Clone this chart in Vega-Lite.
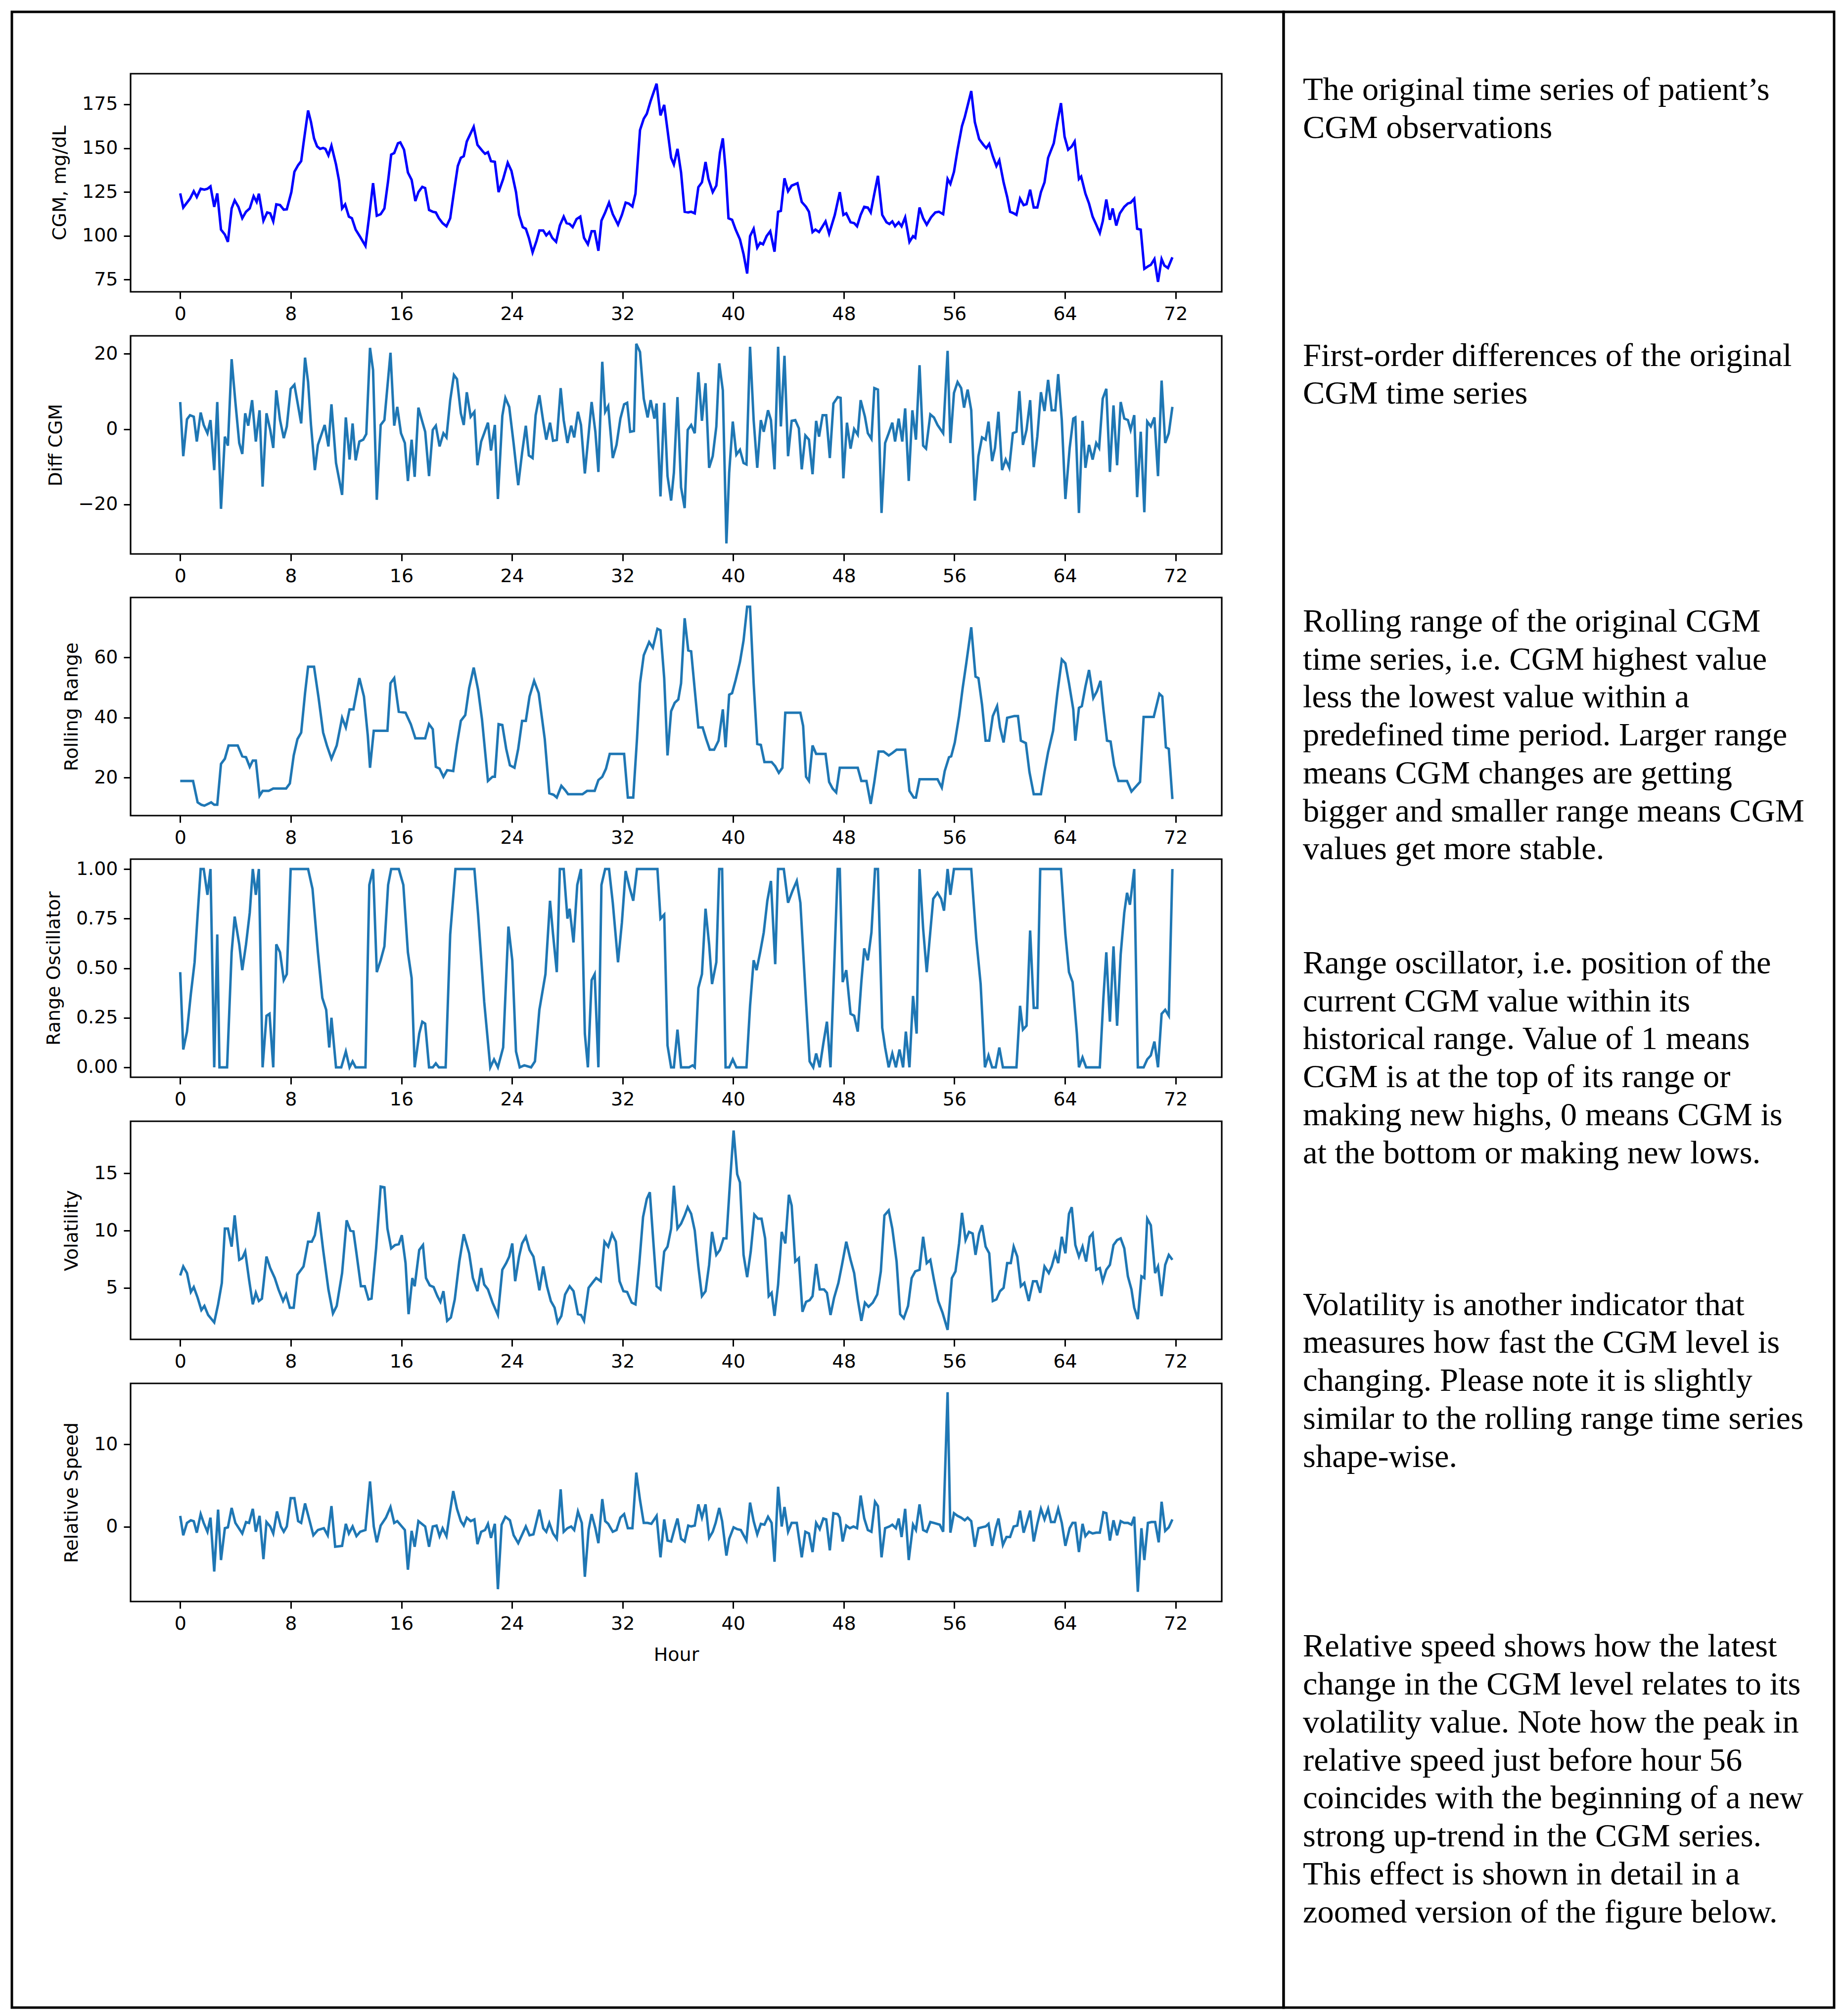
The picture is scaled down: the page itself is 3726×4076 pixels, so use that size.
{
"$schema":"https://vega.github.io/schema/vega-lite/v6.json",
"background":"white",
"padding":{"left":21,"top":21,"right":21,"bottom":20},
"bounds":"flush",
"spacing":0,
"config":{
 "view":{"stroke":"#000","strokeWidth":5},
 "axis":{"grid":false,"domain":false,"tickColor":"#000","tickWidth":3,"tickSize":14,"labelFont":"DejaVu Sans","labelFontSize":38,"labelColor":"#000","labelPadding":12,"labelFlush":false,"labelOverlap":false,"titleFont":"DejaVu Sans","titleFontSize":38,"titleFontWeight":"normal","titleColor":"#000","titlePadding":25}
},
"datasets":{
"cgm":[{"h":0,"v":124.2},{"h":0.22,"v":116.1},{"h":0.71,"v":121.2},{"h":0.98,"v":125.4},{"h":1.2,"v":122.1},{"h":1.48,"v":126.8},{"h":1.75,"v":126.3},{"h":1.97,"v":126.8},{"h":2.19,"v":128.2},{"h":2.46,"v":116.5},{"h":2.68,"v":124.2},{"h":2.95,"v":103.5},{"h":3.23,"v":100.7},{"h":3.45,"v":96.5},{"h":3.72,"v":115.6},{"h":3.94,"v":120.2},{"h":4.21,"v":116.5},{"h":4.49,"v":110.0},{"h":4.76,"v":113.7},{"h":5.03,"v":115.6},{"h":5.31,"v":122.6},{"h":5.53,"v":119.3},{"h":5.69,"v":124.0},{"h":6.02,"v":108.6},{"h":6.29,"v":113.3},{"h":6.51,"v":112.8},{"h":6.73,"v":108.2},{"h":6.95,"v":117.9},{"h":7.22,"v":117.5},{"h":7.49,"v":114.9},{"h":7.71,"v":115.1},{"h":8.04,"v":124.9},{"h":8.26,"v":136.5},{"h":8.53,"v":140.3},{"h":8.75,"v":142.6},{"h":8.92,"v":152.8},{"h":9.25,"v":171.5},{"h":9.46,"v":164.9},{"h":9.68,"v":155.6},{"h":9.9,"v":151.0},{"h":10.12,"v":149.6},{"h":10.34,"v":150.1},{"h":10.5,"v":149.6},{"h":10.72,"v":145.9},{"h":10.94,"v":151.4},{"h":11.27,"v":140.7},{"h":11.49,"v":131.4},{"h":11.71,"v":115.6},{"h":11.93,"v":117.9},{"h":12.2,"v":110.9},{"h":12.42,"v":110.0},{"h":12.69,"v":103.5},{"h":13.02,"v":99.3},{"h":13.4,"v":94.2},{"h":13.68,"v":111.9},{"h":13.95,"v":130.0},{"h":14.22,"v":111.4},{"h":14.5,"v":112.3},{"h":14.77,"v":115.6},{"h":15.04,"v":131.4},{"h":15.26,"v":146.3},{"h":15.48,"v":147.2},{"h":15.75,"v":152.8},{"h":15.92,"v":153.3},{"h":16.19,"v":149.1},{"h":16.47,"v":136.1},{"h":16.74,"v":131.9},{"h":17.01,"v":119.8},{"h":17.23,"v":124.9},{"h":17.51,"v":127.9},{"h":17.72,"v":127.2},{"h":18.0,"v":114.7},{"h":18.27,"v":113.7},{"h":18.49,"v":113.3},{"h":18.71,"v":110.0},{"h":18.98,"v":107.2},{"h":19.26,"v":105.4},{"h":19.53,"v":110.0},{"h":19.8,"v":124.9},{"h":20.08,"v":139.8},{"h":20.3,"v":144.5},{"h":20.51,"v":145.4},{"h":20.73,"v":153.8},{"h":21.23,"v":162.2},{"h":21.5,"v":151.9},{"h":21.88,"v":148.2},{"h":22.05,"v":146.8},{"h":22.26,"v":147.7},{"h":22.48,"v":142.6},{"h":22.76,"v":142.2},{"h":23.03,"v":124.9},{"h":23.36,"v":132.4},{"h":23.69,"v":141.7},{"h":23.96,"v":137.0},{"h":24.29,"v":124.9},{"h":24.51,"v":111.9},{"h":24.78,"v":104.9},{"h":25.0,"v":104.0},{"h":25.22,"v":98.8},{"h":25.49,"v":90.5},{"h":25.77,"v":97.0},{"h":25.98,"v":103.0},{"h":26.26,"v":103.0},{"h":26.48,"v":100.2},{"h":26.7,"v":102.1},{"h":26.91,"v":98.8},{"h":27.19,"v":96.5},{"h":27.46,"v":105.8},{"h":27.74,"v":110.9},{"h":27.95,"v":107.2},{"h":28.17,"v":106.7},{"h":28.39,"v":104.9},{"h":28.67,"v":109.5},{"h":28.94,"v":110.9},{"h":29.21,"v":98.8},{"h":29.49,"v":95.1},{"h":29.76,"v":102.6},{"h":29.98,"v":102.6},{"h":30.25,"v":91.4},{"h":30.47,"v":108.6},{"h":30.74,"v":113.3},{"h":31.02,"v":118.9},{"h":31.29,"v":112.3},{"h":31.67,"v":106.3},{"h":31.95,"v":111.9},{"h":32.22,"v":118.9},{"h":32.44,"v":118.4},{"h":32.71,"v":116.7},{"h":32.93,"v":124.0},{"h":33.26,"v":160.3},{"h":33.53,"v":166.8},{"h":33.75,"v":169.6},{"h":34.03,"v":177.0},{"h":34.46,"v":186.8},{"h":34.74,"v":168.7},{"h":35.01,"v":174.7},{"h":35.25,"v":160.3},{"h":35.51,"v":144.5},{"h":35.71,"v":140.7},{"h":35.97,"v":149.6},{"h":36.23,"v":136.1},{"h":36.49,"v":113.7},{"h":36.75,"v":113.3},{"h":36.96,"v":113.7},{"h":37.22,"v":112.8},{"h":37.48,"v":127.7},{"h":37.74,"v":130.5},{"h":38.0,"v":142.1},{"h":38.21,"v":132.4},{"h":38.52,"v":124.9},{"h":38.78,"v":128.6},{"h":39.04,"v":147.3},{"h":39.25,"v":155.6},{"h":39.45,"v":137.9},{"h":39.66,"v":110.0},{"h":39.92,"v":109.1},{"h":40.18,"v":103.5},{"h":40.49,"v":97.9},{"h":40.75,"v":89.5},{"h":41.01,"v":78.4},{"h":41.22,"v":99.8},{"h":41.48,"v":104.0},{"h":41.74,"v":93.2},{"h":41.95,"v":96.0},{"h":42.16,"v":95.1},{"h":42.42,"v":99.8},{"h":42.68,"v":102.6},{"h":42.99,"v":90.9},{"h":43.25,"v":113.7},{"h":43.45,"v":114.2},{"h":43.71,"v":132.8},{"h":43.97,"v":125.4},{"h":44.23,"v":128.6},{"h":44.65,"v":130.0},{"h":44.96,"v":119.3},{"h":45.27,"v":116.5},{"h":45.48,"v":113.7},{"h":45.74,"v":102.1},{"h":45.95,"v":103.5},{"h":46.21,"v":102.1},{"h":46.68,"v":108.2},{"h":46.94,"v":101.2},{"h":47.35,"v":111.9},{"h":47.71,"v":124.9},{"h":47.97,"v":111.9},{"h":48.18,"v":112.8},{"h":48.49,"v":107.7},{"h":48.75,"v":107.2},{"h":48.96,"v":105.4},{"h":49.22,"v":111.9},{"h":49.48,"v":116.5},{"h":49.74,"v":116.1},{"h":49.95,"v":113.3},{"h":50.21,"v":124.0},{"h":50.47,"v":134.2},{"h":50.78,"v":111.9},{"h":51.09,"v":107.7},{"h":51.3,"v":106.7},{"h":51.51,"v":108.2},{"h":51.71,"v":105.4},{"h":51.97,"v":107.7},{"h":52.18,"v":105.4},{"h":52.44,"v":110.5},{"h":52.75,"v":96.5},{"h":53.01,"v":99.8},{"h":53.17,"v":98.8},{"h":53.48,"v":116.1},{"h":53.74,"v":110.0},{"h":54.0,"v":106.3},{"h":54.31,"v":110.5},{"h":54.62,"v":113.3},{"h":54.88,"v":113.7},{"h":55.19,"v":112.3},{"h":55.51,"v":132.4},{"h":55.71,"v":129.6},{"h":55.97,"v":136.5},{"h":56.23,"v":149.1},{"h":56.55,"v":162.6},{"h":56.75,"v":167.7},{"h":56.96,"v":174.3},{"h":57.22,"v":182.6},{"h":57.48,"v":164.9},{"h":57.79,"v":155.2},{"h":58.1,"v":151.9},{"h":58.31,"v":150.0},{"h":58.52,"v":152.4},{"h":58.78,"v":145.4},{"h":59.04,"v":139.8},{"h":59.25,"v":143.1},{"h":59.56,"v":130.5},{"h":59.82,"v":122.1},{"h":60.03,"v":113.7},{"h":60.29,"v":112.8},{"h":60.49,"v":111.9},{"h":60.75,"v":121.2},{"h":61.01,"v":117.5},{"h":61.22,"v":118.0},{"h":61.48,"v":126.3},{"h":61.74,"v":116.1},{"h":62.0,"v":116.1},{"h":62.26,"v":124.9},{"h":62.52,"v":130.5},{"h":62.78,"v":144.5},{"h":63.19,"v":152.8},{"h":63.45,"v":164.9},{"h":63.71,"v":175.7},{"h":63.97,"v":156.6},{"h":64.23,"v":149.1},{"h":64.49,"v":151.0},{"h":64.7,"v":153.8},{"h":65.01,"v":132.4},{"h":65.17,"v":133.8},{"h":65.48,"v":124.0},{"h":65.74,"v":118.4},{"h":66.0,"v":110.9},{"h":66.26,"v":106.3},{"h":66.52,"v":101.6},{"h":66.73,"v":108.2},{"h":66.99,"v":120.7},{"h":67.25,"v":109.1},{"h":67.45,"v":115.6},{"h":67.71,"v":105.8},{"h":67.97,"v":112.8},{"h":68.29,"v":116.5},{"h":68.55,"v":118.4},{"h":68.75,"v":118.9},{"h":69.01,"v":121.2},{"h":69.22,"v":104.0},{"h":69.48,"v":103.5},{"h":69.74,"v":81.1},{"h":70.0,"v":82.5},{"h":70.21,"v":83.4},{"h":70.47,"v":86.7},{"h":70.73,"v":73.7},{"h":70.99,"v":86.7},{"h":71.19,"v":83.0},{"h":71.45,"v":81.6},{"h":71.77,"v":87.7}],
"diff":[{"h":0,"v":7.2},{"h":0.22,"v":-7.2},{"h":0.49,"v":2.6},{"h":0.71,"v":3.7},{"h":0.98,"v":3.3},{"h":1.2,"v":-3.3},{"h":1.48,"v":4.4},{"h":1.7,"v":1.1},{"h":1.97,"v":-1.1},{"h":2.19,"v":2.4},{"h":2.46,"v":-10.9},{"h":2.68,"v":7.2},{"h":2.95,"v":-21.2},{"h":3.23,"v":-2.0},{"h":3.45,"v":-4.4},{"h":3.72,"v":18.6},{"h":3.99,"v":7.2},{"h":4.27,"v":-3.7},{"h":4.49,"v":-6.6},{"h":4.7,"v":4.2},{"h":4.92,"v":0.9},{"h":5.2,"v":7.7},{"h":5.47,"v":-3.3},{"h":5.74,"v":5.0},{"h":5.96,"v":-15.3},{"h":6.24,"v":4.2},{"h":6.51,"v":-0.2},{"h":6.73,"v":-5.0},{"h":6.95,"v":10.3},{"h":7.22,"v":2.4},{"h":7.49,"v":-2.4},{"h":7.71,"v":0.7},{"h":7.99,"v":10.7},{"h":8.26,"v":11.8},{"h":8.48,"v":7.2},{"h":8.75,"v":1.5},{"h":9.03,"v":19.0},{"h":9.25,"v":12.5},{"h":9.46,"v":1.1},{"h":9.74,"v":-10.9},{"h":9.96,"v":-4.2},{"h":10.45,"v":1.1},{"h":10.72,"v":-4.6},{"h":10.94,"v":6.6},{"h":11.27,"v":-9.0},{"h":11.71,"v":-17.5},{"h":11.98,"v":3.1},{"h":12.25,"v":-8.1},{"h":12.47,"v":1.5},{"h":12.69,"v":-8.3},{"h":12.96,"v":-3.3},{"h":13.24,"v":-2.8},{"h":13.46,"v":-1.3},{"h":13.73,"v":21.6},{"h":13.95,"v":15.7},{"h":14.22,"v":-18.8},{"h":14.5,"v":1.1},{"h":14.77,"v":2.4},{"h":15.21,"v":20.3},{"h":15.48,"v":0.9},{"h":15.7,"v":5.9},{"h":15.97,"v":-1.1},{"h":16.25,"v":-3.7},{"h":16.47,"v":-13.8},{"h":16.74,"v":-2.8},{"h":16.96,"v":-12.7},{"h":17.23,"v":5.7},{"h":17.51,"v":2.0},{"h":17.72,"v":-0.7},{"h":18.0,"v":-12.5},{"h":18.27,"v":-0.2},{"h":18.49,"v":0.9},{"h":18.76,"v":-4.6},{"h":19.04,"v":-1.1},{"h":19.26,"v":-2.2},{"h":19.53,"v":7.7},{"h":19.8,"v":14.4},{"h":20.02,"v":13.3},{"h":20.3,"v":4.2},{"h":20.51,"v":1.1},{"h":20.73,"v":9.8},{"h":21.01,"v":3.3},{"h":21.28,"v":4.6},{"h":21.5,"v":-9.6},{"h":21.77,"v":-3.3},{"h":21.99,"v":-1.1},{"h":22.26,"v":1.7},{"h":22.48,"v":-5.7},{"h":22.76,"v":1.1},{"h":22.98,"v":-18.6},{"h":23.3,"v":3.5},{"h":23.52,"v":8.3},{"h":23.8,"v":5.9},{"h":24.12,"v":-3.9},{"h":24.45,"v":-14.9},{"h":24.73,"v":-6.3},{"h":25.0,"v":0.9},{"h":25.22,"v":-7.0},{"h":25.49,"v":-7.7},{"h":25.71,"v":3.7},{"h":25.98,"v":9.0},{"h":26.26,"v":2.0},{"h":26.48,"v":-2.8},{"h":26.75,"v":1.7},{"h":26.97,"v":-3.1},{"h":27.24,"v":-2.9},{"h":27.52,"v":10.9},{"h":27.74,"v":2.4},{"h":28.01,"v":-3.7},{"h":28.28,"v":0.9},{"h":28.5,"v":-2.2},{"h":28.77,"v":4.6},{"h":28.99,"v":1.1},{"h":29.27,"v":-11.8},{"h":29.54,"v":-1.5},{"h":29.76,"v":7.2},{"h":30.03,"v":-0.7},{"h":30.25,"v":-11.4},{"h":30.53,"v":17.9},{"h":30.74,"v":4.6},{"h":30.96,"v":6.1},{"h":31.29,"v":-7.7},{"h":31.56,"v":-4.2},{"h":31.84,"v":2.8},{"h":32.11,"v":6.6},{"h":32.33,"v":7.0},{"h":32.55,"v":-0.7},{"h":32.82,"v":-0.5},{"h":32.99,"v":22.7},{"h":33.26,"v":20.5},{"h":33.53,"v":8.1},{"h":33.81,"v":3.1},{"h":34.03,"v":7.7},{"h":34.3,"v":2.8},{"h":34.46,"v":6.8},{"h":34.74,"v":-17.9},{"h":35.01,"v":7.0},{"h":35.25,"v":-12.5},{"h":35.51,"v":-19.0},{"h":35.71,"v":-11.6},{"h":35.97,"v":8.5},{"h":36.23,"v":-15.5},{"h":36.49,"v":-21.0},{"h":36.71,"v":-0.2},{"h":36.96,"v":1.1},{"h":37.22,"v":-1.1},{"h":37.48,"v":15.1},{"h":37.74,"v":2.2},{"h":38.0,"v":12.2},{"h":38.26,"v":-10.3},{"h":38.52,"v":-7.2},{"h":38.78,"v":0.7},{"h":38.99,"v":17.5},{"h":39.25,"v":10.3},{"h":39.51,"v":-30.4},{"h":39.71,"v":-11.6},{"h":39.97,"v":2.0},{"h":40.23,"v":-6.8},{"h":40.49,"v":-5.5},{"h":40.75,"v":-9.0},{"h":40.96,"v":-9.4},{"h":41.22,"v":21.9},{"h":41.48,"v":2.4},{"h":41.74,"v":-10.3},{"h":42.0,"v":2.4},{"h":42.21,"v":-0.7},{"h":42.52,"v":5.0},{"h":42.73,"v":2.4},{"h":42.99,"v":-10.7},{"h":43.25,"v":21.9},{"h":43.45,"v":0.7},{"h":43.71,"v":19.5},{"h":43.97,"v":-7.2},{"h":44.23,"v":2.2},{"h":44.49,"v":2.4},{"h":44.75,"v":0.2},{"h":44.96,"v":-10.7},{"h":45.22,"v":-1.7},{"h":45.48,"v":-2.8},{"h":45.74,"v":-12.0},{"h":46.0,"v":2.2},{"h":46.21,"v":-2.0},{"h":46.47,"v":3.7},{"h":46.73,"v":3.7},{"h":46.99,"v":-7.7},{"h":47.25,"v":6.8},{"h":47.56,"v":8.5},{"h":47.77,"v":8.3},{"h":47.97,"v":-13.1},{"h":48.23,"v":1.7},{"h":48.49,"v":-5.2},{"h":48.75,"v":0.0},{"h":49.01,"v":-1.5},{"h":49.22,"v":7.7},{"h":49.53,"v":3.3},{"h":49.74,"v":-1.1},{"h":50.0,"v":-2.6},{"h":50.21,"v":10.9},{"h":50.47,"v":10.5},{"h":50.73,"v":-22.3},{"h":50.99,"v":-3.7},{"h":51.25,"v":-1.1},{"h":51.51,"v":1.7},{"h":51.71,"v":-3.3},{"h":51.97,"v":2.8},{"h":52.23,"v":-3.3},{"h":52.44,"v":5.5},{"h":52.7,"v":-13.8},{"h":52.96,"v":5.0},{"h":53.22,"v":-2.8},{"h":53.48,"v":17.0},{"h":53.74,"v":-4.4},{"h":53.95,"v":-5.2},{"h":54.26,"v":3.9},{"h":54.52,"v":3.1},{"h":54.78,"v":1.1},{"h":55.19,"v":-1.1},{"h":55.51,"v":20.8},{"h":55.71,"v":-3.7},{"h":55.97,"v":9.6},{"h":56.23,"v":12.5},{"h":56.49,"v":10.9},{"h":56.7,"v":5.7},{"h":56.96,"v":10.5},{"h":57.22,"v":5.0},{"h":57.48,"v":-19.0},{"h":57.74,"v":-7.2},{"h":58.0,"v":-2.2},{"h":58.26,"v":-2.8},{"h":58.47,"v":2.0},{"h":58.73,"v":-8.5},{"h":58.94,"v":-5.0},{"h":59.19,"v":4.6},{"h":59.45,"v":-10.9},{"h":59.71,"v":-8.1},{"h":59.97,"v":-10.3},{"h":60.23,"v":-1.1},{"h":60.49,"v":-0.7},{"h":60.7,"v":10.1},{"h":60.96,"v":-4.2},{"h":61.22,"v":-0.2},{"h":61.48,"v":7.7},{"h":61.74,"v":-10.1},{"h":62.0,"v":-2.0},{"h":62.26,"v":9.8},{"h":62.52,"v":4.8},{"h":62.78,"v":13.1},{"h":63.04,"v":5.0},{"h":63.3,"v":5.0},{"h":63.51,"v":14.6},{"h":63.77,"v":2.4},{"h":64.03,"v":-18.6},{"h":64.34,"v":-5.0},{"h":64.6,"v":2.8},{"h":64.75,"v":3.1},{"h":65.01,"v":-22.3},{"h":65.27,"v":2.2},{"h":65.48,"v":-10.3},{"h":65.74,"v":-4.2},{"h":66.0,"v":-8.1},{"h":66.26,"v":-3.7},{"h":66.47,"v":-5.0},{"h":66.73,"v":8.1},{"h":66.99,"v":10.7},{"h":67.25,"v":-11.4},{"h":67.51,"v":6.3},{"h":67.77,"v":-9.6},{"h":68.03,"v":7.2},{"h":68.29,"v":2.8},{"h":68.55,"v":2.4},{"h":68.75,"v":-0.2},{"h":69.01,"v":3.7},{"h":69.22,"v":-18.1},{"h":69.48,"v":-0.7},{"h":69.74,"v":-22.1},{"h":69.95,"v":2.0},{"h":70.21,"v":0.7},{"h":70.47,"v":3.1},{"h":70.73,"v":-12.5},{"h":70.99,"v":12.9},{"h":71.25,"v":-3.7},{"h":71.51,"v":-1.1},{"h":71.77,"v":5.9}],
"range":[{"h":0,"v":18.9},{"h":0.93,"v":18.9},{"h":1.26,"v":11.8},{"h":1.53,"v":11.0},{"h":1.75,"v":10.7},{"h":2.02,"v":11.3},{"h":2.24,"v":11.8},{"h":2.46,"v":11.0},{"h":2.68,"v":11.0},{"h":2.95,"v":24.6},{"h":3.23,"v":26.3},{"h":3.5,"v":30.7},{"h":4.16,"v":30.7},{"h":4.49,"v":27.1},{"h":4.76,"v":26.8},{"h":5.03,"v":23.6},{"h":5.25,"v":25.7},{"h":5.47,"v":25.7},{"h":5.74,"v":14.0},{"h":5.96,"v":15.6},{"h":6.4,"v":15.6},{"h":6.73,"v":16.4},{"h":7.66,"v":16.4},{"h":7.93,"v":18.1},{"h":8.21,"v":27.4},{"h":8.48,"v":32.8},{"h":8.75,"v":35.0},{"h":9.03,"v":48.1},{"h":9.25,"v":56.9},{"h":9.68,"v":56.9},{"h":10.01,"v":46.5},{"h":10.34,"v":35.0},{"h":10.61,"v":30.7},{"h":10.94,"v":26.3},{"h":11.32,"v":30.7},{"h":11.71,"v":39.9},{"h":11.98,"v":36.7},{"h":12.25,"v":42.7},{"h":12.53,"v":42.7},{"h":12.96,"v":53.1},{"h":13.29,"v":47.0},{"h":13.57,"v":33.9},{"h":13.73,"v":23.3},{"h":14.0,"v":35.6},{"h":14.99,"v":35.6},{"h":15.21,"v":51.4},{"h":15.48,"v":53.1},{"h":15.81,"v":41.9},{"h":16.3,"v":41.6},{"h":16.68,"v":37.8},{"h":17.01,"v":33.1},{"h":17.72,"v":33.1},{"h":18.0,"v":37.8},{"h":18.27,"v":36.1},{"h":18.49,"v":23.6},{"h":18.76,"v":23.0},{"h":19.04,"v":20.3},{"h":19.31,"v":22.5},{"h":19.75,"v":22.2},{"h":20.02,"v":31.2},{"h":20.3,"v":38.9},{"h":20.62,"v":40.8},{"h":20.9,"v":49.8},{"h":21.23,"v":56.6},{"h":21.55,"v":49.2},{"h":21.83,"v":39.4},{"h":22.26,"v":18.9},{"h":22.59,"v":20.3},{"h":22.76,"v":20.3},{"h":23.03,"v":37.8},{"h":23.3,"v":37.5},{"h":23.58,"v":29.6},{"h":23.85,"v":24.1},{"h":24.18,"v":23.3},{"h":24.45,"v":29.6},{"h":24.73,"v":38.9},{"h":25.0,"v":38.9},{"h":25.27,"v":47.0},{"h":25.6,"v":52.2},{"h":25.93,"v":48.1},{"h":26.37,"v":32.8},{"h":26.7,"v":14.8},{"h":27.02,"v":14.3},{"h":27.24,"v":13.4},{"h":27.57,"v":17.3},{"h":27.84,"v":15.9},{"h":28.06,"v":14.5},{"h":29.1,"v":14.5},{"h":29.43,"v":15.6},{"h":29.98,"v":15.6},{"h":30.25,"v":19.2},{"h":30.53,"v":20.3},{"h":30.8,"v":23.0},{"h":31.07,"v":27.9},{"h":32.11,"v":27.9},{"h":32.38,"v":13.4},{"h":32.77,"v":13.4},{"h":33.04,"v":32.8},{"h":33.26,"v":51.4},{"h":33.53,"v":60.7},{"h":33.92,"v":65.1},{"h":34.19,"v":63.2},{"h":34.52,"v":69.5},{"h":34.74,"v":69.0},{"h":35.01,"v":53.1},{"h":35.25,"v":27.4},{"h":35.51,"v":42.1},{"h":35.77,"v":44.9},{"h":36.03,"v":46.0},{"h":36.23,"v":51.4},{"h":36.49,"v":73.0},{"h":36.75,"v":62.3},{"h":36.96,"v":62.0},{"h":37.22,"v":49.2},{"h":37.48,"v":36.7},{"h":37.79,"v":36.7},{"h":38.05,"v":32.8},{"h":38.31,"v":29.3},{"h":38.62,"v":29.3},{"h":38.94,"v":32.3},{"h":39.25,"v":42.7},{"h":39.45,"v":30.1},{"h":39.71,"v":47.6},{"h":39.92,"v":48.1},{"h":40.18,"v":52.5},{"h":40.49,"v":58.5},{"h":40.75,"v":65.6},{"h":41.01,"v":76.8},{"h":41.22,"v":76.8},{"h":41.48,"v":51.4},{"h":41.74,"v":31.2},{"h":42.0,"v":30.9},{"h":42.26,"v":25.2},{"h":42.78,"v":25.2},{"h":43.04,"v":23.8},{"h":43.3,"v":21.6},{"h":43.56,"v":23.3},{"h":43.77,"v":41.6},{"h":44.86,"v":41.6},{"h":45.06,"v":37.2},{"h":45.27,"v":20.3},{"h":45.48,"v":18.9},{"h":45.74,"v":30.7},{"h":46.0,"v":27.9},{"h":46.68,"v":27.9},{"h":46.94,"v":18.6},{"h":47.19,"v":16.4},{"h":47.45,"v":15.1},{"h":47.71,"v":23.3},{"h":49.01,"v":23.3},{"h":49.27,"v":18.9},{"h":49.64,"v":18.9},{"h":49.95,"v":11.3},{"h":50.21,"v":18.6},{"h":50.52,"v":28.7},{"h":50.88,"v":28.7},{"h":51.25,"v":27.4},{"h":51.51,"v":28.2},{"h":51.82,"v":29.3},{"h":52.44,"v":29.3},{"h":52.75,"v":15.6},{"h":53.06,"v":13.4},{"h":53.22,"v":13.4},{"h":53.48,"v":19.5},{"h":54.78,"v":19.5},{"h":55.09,"v":16.7},{"h":55.3,"v":22.2},{"h":55.61,"v":26.8},{"h":55.77,"v":27.1},{"h":56.03,"v":31.7},{"h":56.34,"v":40.5},{"h":56.6,"v":49.8},{"h":56.86,"v":58.0},{"h":57.22,"v":70.0},{"h":57.53,"v":53.6},{"h":57.74,"v":53.1},{"h":58.0,"v":44.3},{"h":58.26,"v":32.3},{"h":58.52,"v":32.3},{"h":58.78,"v":40.5},{"h":59.09,"v":43.8},{"h":59.3,"v":36.7},{"h":59.56,"v":31.7},{"h":59.82,"v":39.9},{"h":60.34,"v":40.5},{"h":60.6,"v":40.5},{"h":60.81,"v":32.3},{"h":61.17,"v":31.5},{"h":61.43,"v":21.9},{"h":61.74,"v":14.5},{"h":62.26,"v":14.5},{"h":62.52,"v":21.9},{"h":62.78,"v":28.5},{"h":63.14,"v":35.6},{"h":63.45,"v":48.1},{"h":63.77,"v":59.3},{"h":64.03,"v":58.0},{"h":64.29,"v":51.4},{"h":64.6,"v":42.7},{"h":64.75,"v":32.3},{"h":65.01,"v":43.2},{"h":65.22,"v":43.8},{"h":65.48,"v":50.3},{"h":65.74,"v":55.8},{"h":66.05,"v":46.5},{"h":66.31,"v":48.7},{"h":66.57,"v":52.2},{"h":66.78,"v":42.7},{"h":67.04,"v":32.3},{"h":67.3,"v":32.0},{"h":67.56,"v":24.1},{"h":67.87,"v":18.9},{"h":68.49,"v":18.9},{"h":68.81,"v":15.4},{"h":69.12,"v":17.0},{"h":69.43,"v":18.6},{"h":69.69,"v":40.2},{"h":70.42,"v":40.2},{"h":70.83,"v":47.9},{"h":71.04,"v":47.0},{"h":71.3,"v":30.1},{"h":71.51,"v":29.6},{"h":71.77,"v":12.9}],
"osc":[{"h":0,"v":0.48},{"h":0.22,"v":0.09},{"h":0.49,"v":0.18},{"h":0.77,"v":0.37},{"h":1.04,"v":0.53},{"h":1.26,"v":0.77},{"h":1.48,"v":1.0},{"h":1.7,"v":1.0},{"h":1.97,"v":0.87},{"h":2.19,"v":1.0},{"h":2.46,"v":0.0},{"h":2.68,"v":0.67},{"h":2.84,"v":0.0},{"h":3.01,"v":0.0},{"h":3.39,"v":0.0},{"h":3.72,"v":0.58},{"h":3.94,"v":0.76},{"h":4.27,"v":0.62},{"h":4.49,"v":0.49},{"h":4.76,"v":0.62},{"h":5.03,"v":0.78},{"h":5.25,"v":1.0},{"h":5.47,"v":0.87},{"h":5.69,"v":1.0},{"h":5.96,"v":0.0},{"h":6.24,"v":0.26},{"h":6.46,"v":0.27},{"h":6.73,"v":0.0},{"h":6.95,"v":0.62},{"h":7.22,"v":0.58},{"h":7.49,"v":0.44},{"h":7.71,"v":0.47},{"h":7.99,"v":1.0},{"h":9.25,"v":1.0},{"h":9.57,"v":0.9},{"h":9.96,"v":0.58},{"h":10.28,"v":0.35},{"h":10.56,"v":0.29},{"h":10.78,"v":0.1},{"h":10.94,"v":0.25},{"h":11.27,"v":0.0},{"h":11.65,"v":0.0},{"h":11.98,"v":0.08},{"h":12.25,"v":0.0},{"h":12.47,"v":0.03},{"h":12.69,"v":0.0},{"h":13.4,"v":0.0},{"h":13.68,"v":0.92},{"h":13.95,"v":1.0},{"h":14.22,"v":0.48},{"h":14.5,"v":0.54},{"h":14.77,"v":0.61},{"h":15.04,"v":0.92},{"h":15.26,"v":1.0},{"h":15.81,"v":1.0},{"h":16.14,"v":0.92},{"h":16.47,"v":0.58},{"h":16.74,"v":0.45},{"h":16.96,"v":0.0},{"h":17.29,"v":0.17},{"h":17.51,"v":0.23},{"h":17.72,"v":0.22},{"h":18.0,"v":0.0},{"h":18.27,"v":0.0},{"h":18.49,"v":0.02},{"h":18.71,"v":0.0},{"h":19.2,"v":0.0},{"h":19.53,"v":0.67},{"h":19.91,"v":1.0},{"h":21.28,"v":1.0},{"h":21.55,"v":0.77},{"h":21.99,"v":0.33},{"h":22.43,"v":0.0},{"h":22.7,"v":0.04},{"h":22.98,"v":0.0},{"h":23.36,"v":0.1},{"h":23.74,"v":0.71},{"h":24.02,"v":0.54},{"h":24.29,"v":0.08},{"h":24.56,"v":0.0},{"h":24.89,"v":0.01},{"h":25.38,"v":0.0},{"h":25.66,"v":0.03},{"h":25.98,"v":0.29},{"h":26.42,"v":0.47},{"h":26.75,"v":0.84},{"h":26.97,"v":0.67},{"h":27.24,"v":0.48},{"h":27.46,"v":1.0},{"h":27.74,"v":1.0},{"h":28.01,"v":0.75},{"h":28.17,"v":0.8},{"h":28.45,"v":0.63},{"h":28.72,"v":0.92},{"h":28.99,"v":1.0},{"h":29.27,"v":0.17},{"h":29.49,"v":0.0},{"h":29.76,"v":0.44},{"h":29.98,"v":0.47},{"h":30.25,"v":0.0},{"h":30.47,"v":0.92},{"h":30.74,"v":1.0},{"h":31.02,"v":1.0},{"h":31.29,"v":0.83},{"h":31.67,"v":0.53},{"h":31.95,"v":0.73},{"h":32.22,"v":0.99},{"h":32.49,"v":0.91},{"h":32.77,"v":0.84},{"h":33.04,"v":1.0},{"h":34.52,"v":1.0},{"h":34.74,"v":0.75},{"h":35.01,"v":0.77},{"h":35.25,"v":0.11},{"h":35.51,"v":0.0},{"h":35.71,"v":0.0},{"h":35.97,"v":0.19},{"h":36.23,"v":0.0},{"h":36.81,"v":0.0},{"h":37.06,"v":0.01},{"h":37.22,"v":0.0},{"h":37.48,"v":0.4},{"h":37.74,"v":0.47},{"h":38.0,"v":0.8},{"h":38.26,"v":0.62},{"h":38.47,"v":0.42},{"h":38.78,"v":0.53},{"h":38.99,"v":1.0},{"h":39.2,"v":1.0},{"h":39.45,"v":0.0},{"h":39.71,"v":0.0},{"h":39.97,"v":0.04},{"h":40.23,"v":0.0},{"h":40.96,"v":0.0},{"h":41.22,"v":0.31},{"h":41.48,"v":0.54},{"h":41.69,"v":0.49},{"h":41.95,"v":0.58},{"h":42.21,"v":0.68},{"h":42.47,"v":0.84},{"h":42.73,"v":0.94},{"h":43.04,"v":0.52},{"h":43.25,"v":1.0},{"h":43.66,"v":1.0},{"h":43.97,"v":0.83},{"h":44.29,"v":0.89},{"h":44.6,"v":0.94},{"h":44.86,"v":0.83},{"h":45.27,"v":0.33},{"h":45.53,"v":0.03},{"h":45.79,"v":0.0},{"h":46.0,"v":0.07},{"h":46.26,"v":0.0},{"h":46.52,"v":0.12},{"h":46.78,"v":0.23},{"h":47.04,"v":0.0},{"h":47.3,"v":0.5},{"h":47.56,"v":1.0},{"h":47.71,"v":1.0},{"h":47.92,"v":0.43},{"h":48.18,"v":0.49},{"h":48.49,"v":0.27},{"h":48.75,"v":0.26},{"h":49.01,"v":0.18},{"h":49.27,"v":0.43},{"h":49.48,"v":0.6},{"h":49.74,"v":0.54},{"h":50.0,"v":0.68},{"h":50.26,"v":1.0},{"h":50.47,"v":1.0},{"h":50.78,"v":0.2},{"h":50.99,"v":0.1},{"h":51.25,"v":0.0},{"h":51.51,"v":0.07},{"h":51.77,"v":0.0},{"h":52.03,"v":0.09},{"h":52.29,"v":0.0},{"h":52.49,"v":0.18},{"h":52.75,"v":0.0},{"h":53.01,"v":0.36},{"h":53.27,"v":0.17},{"h":53.48,"v":1.0},{"h":53.74,"v":0.7},{"h":54.0,"v":0.48},{"h":54.47,"v":0.85},{"h":54.78,"v":0.88},{"h":55.04,"v":0.85},{"h":55.25,"v":0.79},{"h":55.51,"v":1.0},{"h":55.71,"v":0.87},{"h":55.97,"v":1.0},{"h":57.22,"v":1.0},{"h":57.58,"v":0.65},{"h":57.9,"v":0.42},{"h":58.21,"v":0.0},{"h":58.47,"v":0.06},{"h":58.73,"v":0.0},{"h":58.99,"v":0.0},{"h":59.25,"v":0.1},{"h":59.51,"v":0.0},{"h":60.49,"v":0.0},{"h":60.75,"v":0.31},{"h":60.96,"v":0.19},{"h":61.22,"v":0.21},{"h":61.48,"v":0.69},{"h":61.74,"v":0.3},{"h":62.0,"v":0.3},{"h":62.21,"v":1.0},{"h":63.71,"v":1.0},{"h":64.03,"v":0.67},{"h":64.29,"v":0.48},{"h":64.55,"v":0.43},{"h":64.86,"v":0.17},{"h":65.01,"v":0.0},{"h":65.27,"v":0.05},{"h":65.53,"v":0.0},{"h":66.52,"v":0.0},{"h":66.78,"v":0.35},{"h":66.99,"v":0.58},{"h":67.25,"v":0.23},{"h":67.51,"v":0.61},{"h":67.77,"v":0.21},{"h":68.03,"v":0.57},{"h":68.29,"v":0.78},{"h":68.49,"v":0.88},{"h":68.7,"v":0.82},{"h":69.01,"v":1.0},{"h":69.27,"v":0.0},{"h":69.69,"v":0.0},{"h":69.95,"v":0.04},{"h":70.21,"v":0.06},{"h":70.47,"v":0.13},{"h":70.73,"v":0.0},{"h":70.99,"v":0.27},{"h":71.25,"v":0.29},{"h":71.51,"v":0.26},{"h":71.77,"v":1.0}],
"vol":[{"h":0,"v":6.08},{"h":0.22,"v":6.87},{"h":0.49,"v":6.29},{"h":0.77,"v":4.64},{"h":0.98,"v":5.07},{"h":1.26,"v":4.14},{"h":1.53,"v":3.06},{"h":1.75,"v":3.42},{"h":2.02,"v":2.63},{"h":2.46,"v":1.98},{"h":2.74,"v":3.56},{"h":3.01,"v":5.43},{"h":3.23,"v":10.18},{"h":3.45,"v":10.18},{"h":3.72,"v":8.6},{"h":3.94,"v":11.33},{"h":4.27,"v":7.45},{"h":4.49,"v":7.6},{"h":4.7,"v":8.17},{"h":4.98,"v":5.72},{"h":5.25,"v":3.56},{"h":5.47,"v":4.57},{"h":5.69,"v":3.85},{"h":5.91,"v":4.06},{"h":6.24,"v":7.73},{"h":6.51,"v":6.73},{"h":6.84,"v":5.86},{"h":7.11,"v":4.86},{"h":7.44,"v":3.85},{"h":7.66,"v":4.42},{"h":7.93,"v":3.27},{"h":8.21,"v":3.27},{"h":8.48,"v":6.15},{"h":8.92,"v":6.87},{"h":9.25,"v":9.03},{"h":9.52,"v":9.03},{"h":9.74,"v":9.6},{"h":10.01,"v":11.62},{"h":10.34,"v":8.31},{"h":10.72,"v":4.86},{"h":11.05,"v":2.77},{"h":11.32,"v":3.42},{"h":11.71,"v":6.29},{"h":12.04,"v":10.9},{"h":12.31,"v":10.0},{"h":12.53,"v":9.93},{"h":12.75,"v":8.02},{"h":13.07,"v":5.14},{"h":13.35,"v":5.14},{"h":13.62,"v":3.99},{"h":13.84,"v":4.06},{"h":14.17,"v":8.45},{"h":14.5,"v":13.85},{"h":14.77,"v":13.78},{"h":14.99,"v":10.18},{"h":15.26,"v":8.45},{"h":15.54,"v":8.74},{"h":15.81,"v":8.81},{"h":16.03,"v":9.6},{"h":16.3,"v":7.16},{"h":16.52,"v":2.7},{"h":16.79,"v":5.86},{"h":16.96,"v":5.14},{"h":17.29,"v":8.31},{"h":17.56,"v":8.74},{"h":17.78,"v":5.86},{"h":18.05,"v":5.22},{"h":18.33,"v":5.07},{"h":18.6,"v":4.28},{"h":18.82,"v":3.78},{"h":19.04,"v":4.71},{"h":19.31,"v":2.12},{"h":19.58,"v":2.41},{"h":19.86,"v":3.99},{"h":20.19,"v":7.3},{"h":20.51,"v":9.68},{"h":20.9,"v":8.02},{"h":21.17,"v":5.86},{"h":21.5,"v":4.71},{"h":21.77,"v":6.73},{"h":21.99,"v":5.29},{"h":22.26,"v":4.86},{"h":22.59,"v":3.71},{"h":22.98,"v":2.63},{"h":23.3,"v":6.58},{"h":23.58,"v":7.16},{"h":23.8,"v":7.73},{"h":24.02,"v":8.88},{"h":24.23,"v":5.58},{"h":24.51,"v":7.73},{"h":24.73,"v":8.88},{"h":25.0,"v":9.46},{"h":25.27,"v":8.31},{"h":25.55,"v":7.73},{"h":25.77,"v":6.29},{"h":25.98,"v":4.78},{"h":26.26,"v":6.87},{"h":26.53,"v":5.14},{"h":26.81,"v":3.85},{"h":27.08,"v":3.27},{"h":27.3,"v":1.98},{"h":27.57,"v":2.55},{"h":27.84,"v":4.42},{"h":28.17,"v":5.14},{"h":28.45,"v":4.71},{"h":28.77,"v":2.7},{"h":28.99,"v":2.63},{"h":29.21,"v":2.12},{"h":29.54,"v":5.0},{"h":29.81,"v":5.43},{"h":30.09,"v":5.86},{"h":30.42,"v":5.58},{"h":30.69,"v":9.03},{"h":30.96,"v":8.6},{"h":31.24,"v":9.71},{"h":31.51,"v":9.03},{"h":31.78,"v":5.58},{"h":32.06,"v":4.71},{"h":32.33,"v":4.64},{"h":32.66,"v":3.71},{"h":32.93,"v":3.56},{"h":33.21,"v":7.16},{"h":33.48,"v":11.19},{"h":33.75,"v":12.77},{"h":33.97,"v":13.35},{"h":34.25,"v":8.6},{"h":34.46,"v":5.14},{"h":34.74,"v":4.86},{"h":35.01,"v":8.17},{"h":35.25,"v":8.6},{"h":35.51,"v":10.18},{"h":35.71,"v":13.92},{"h":35.97,"v":10.18},{"h":36.23,"v":10.61},{"h":36.49,"v":11.33},{"h":36.71,"v":12.05},{"h":36.96,"v":11.47},{"h":37.22,"v":10.0},{"h":37.48,"v":6.87},{"h":37.74,"v":4.28},{"h":38.0,"v":4.71},{"h":38.26,"v":7.01},{"h":38.47,"v":9.89},{"h":38.78,"v":7.88},{"h":39.04,"v":8.31},{"h":39.3,"v":9.32},{"h":39.51,"v":9.32},{"h":39.77,"v":14.21},{"h":40.03,"v":18.74},{"h":40.29,"v":14.93},{"h":40.49,"v":14.21},{"h":40.75,"v":7.88},{"h":41.01,"v":5.94},{"h":41.27,"v":8.17},{"h":41.53,"v":11.4},{"h":41.79,"v":11.04},{"h":42.05,"v":11.04},{"h":42.31,"v":9.32},{"h":42.57,"v":4.28},{"h":42.78,"v":4.57},{"h":42.99,"v":2.55},{"h":43.25,"v":5.29},{"h":43.51,"v":9.89},{"h":43.77,"v":8.88},{"h":44.03,"v":13.13},{"h":44.23,"v":12.19},{"h":44.49,"v":7.3},{"h":44.75,"v":7.59},{"h":45.01,"v":2.91},{"h":45.27,"v":3.78},{"h":45.53,"v":3.92},{"h":45.74,"v":4.28},{"h":46.0,"v":7.09},{"h":46.26,"v":4.86},{"h":46.57,"v":4.86},{"h":46.78,"v":4.57},{"h":47.04,"v":2.63},{"h":47.3,"v":4.14},{"h":47.61,"v":5.43},{"h":47.87,"v":7.01},{"h":48.18,"v":9.03},{"h":48.49,"v":7.45},{"h":48.75,"v":6.29},{"h":49.01,"v":3.99},{"h":49.27,"v":2.12},{"h":49.53,"v":3.71},{"h":49.79,"v":3.35},{"h":50.1,"v":3.71},{"h":50.42,"v":4.42},{"h":50.68,"v":6.44},{"h":50.94,"v":11.33},{"h":51.25,"v":11.76},{"h":51.51,"v":10.18},{"h":51.82,"v":7.3},{"h":52.08,"v":2.7},{"h":52.34,"v":2.34},{"h":52.65,"v":3.42},{"h":52.91,"v":5.86},{"h":53.17,"v":6.44},{"h":53.48,"v":6.58},{"h":53.74,"v":9.46},{"h":54.0,"v":7.16},{"h":54.26,"v":7.45},{"h":54.52,"v":5.72},{"h":54.83,"v":3.85},{"h":55.14,"v":2.84},{"h":55.51,"v":1.33},{"h":55.82,"v":5.86},{"h":56.08,"v":6.44},{"h":56.34,"v":8.88},{"h":56.55,"v":11.55},{"h":56.81,"v":9.17},{"h":57.06,"v":9.89},{"h":57.32,"v":9.75},{"h":57.53,"v":7.88},{"h":57.79,"v":9.75},{"h":58.0,"v":10.47},{"h":58.26,"v":8.6},{"h":58.52,"v":8.02},{"h":58.78,"v":3.85},{"h":59.04,"v":3.99},{"h":59.3,"v":4.71},{"h":59.56,"v":5.0},{"h":59.82,"v":7.16},{"h":60.08,"v":7.16},{"h":60.29,"v":8.6},{"h":60.55,"v":7.73},{"h":60.81,"v":5.14},{"h":61.06,"v":5.43},{"h":61.38,"v":3.85},{"h":61.69,"v":5.58},{"h":61.95,"v":5.58},{"h":62.21,"v":4.57},{"h":62.52,"v":6.87},{"h":62.83,"v":6.29},{"h":63.04,"v":6.87},{"h":63.3,"v":8.02},{"h":63.51,"v":7.16},{"h":63.77,"v":9.46},{"h":64.03,"v":8.02},{"h":64.29,"v":11.47},{"h":64.49,"v":12.05},{"h":64.75,"v":8.74},{"h":65.01,"v":7.73},{"h":65.27,"v":8.6},{"h":65.53,"v":7.3},{"h":65.79,"v":9.46},{"h":66.0,"v":9.75},{"h":66.26,"v":6.58},{"h":66.52,"v":6.73},{"h":66.73,"v":5.58},{"h":66.99,"v":6.58},{"h":67.25,"v":7.01},{"h":67.51,"v":8.74},{"h":67.77,"v":9.17},{"h":68.03,"v":9.32},{"h":68.29,"v":8.45},{"h":68.55,"v":6.01},{"h":68.81,"v":4.86},{"h":69.01,"v":3.27},{"h":69.27,"v":2.27},{"h":69.53,"v":6.01},{"h":69.74,"v":5.86},{"h":69.95,"v":11.04},{"h":70.21,"v":10.47},{"h":70.52,"v":6.29},{"h":70.73,"v":6.87},{"h":70.99,"v":4.28},{"h":71.25,"v":7.01},{"h":71.51,"v":7.88},{"h":71.77,"v":7.45}],
"speed":[{"h":0,"v":1.33},{"h":0.22,"v":-1.03},{"h":0.49,"v":0.47},{"h":0.77,"v":0.79},{"h":0.98,"v":0.68},{"h":1.2,"v":-0.71},{"h":1.48,"v":1.54},{"h":1.7,"v":0.47},{"h":1.97,"v":-0.6},{"h":2.19,"v":1.11},{"h":2.46,"v":-5.42},{"h":2.74,"v":2.08},{"h":2.95,"v":-4.03},{"h":3.23,"v":-0.17},{"h":3.45,"v":-0.06},{"h":3.72,"v":2.29},{"h":3.99,"v":0.47},{"h":4.49,"v":-0.81},{"h":4.76,"v":0.58},{"h":4.98,"v":0.47},{"h":5.25,"v":2.18},{"h":5.47,"v":-0.6},{"h":5.74,"v":1.33},{"h":6.02,"v":-3.92},{"h":6.24,"v":0.58},{"h":6.51,"v":0.04},{"h":6.73,"v":-0.81},{"h":7.0,"v":1.86},{"h":7.28,"v":0.04},{"h":7.49,"v":-0.6},{"h":7.71,"v":0.04},{"h":7.99,"v":3.47},{"h":8.26,"v":3.47},{"h":8.53,"v":0.69},{"h":8.75,"v":0.47},{"h":9.03,"v":2.83},{"h":9.3,"v":1.11},{"h":9.63,"v":-1.03},{"h":9.96,"v":-0.39},{"h":10.39,"v":-0.17},{"h":10.67,"v":-1.03},{"h":10.94,"v":2.51},{"h":11.21,"v":-2.42},{"h":11.71,"v":-2.31},{"h":11.98,"v":0.36},{"h":12.2,"v":-0.81},{"h":12.47,"v":0.04},{"h":12.75,"v":-1.13},{"h":13.02,"v":-0.6},{"h":13.4,"v":-0.39},{"h":13.73,"v":5.5},{"h":14.0,"v":0.04},{"h":14.22,"v":-1.88},{"h":14.5,"v":0.15},{"h":14.88,"v":1.11},{"h":15.21,"v":2.4},{"h":15.48,"v":0.47},{"h":15.7,"v":0.69},{"h":16.25,"v":-0.39},{"h":16.47,"v":-5.2},{"h":16.74,"v":-0.49},{"h":16.96,"v":-2.42},{"h":17.23,"v":0.69},{"h":17.72,"v":0.04},{"h":18.0,"v":-2.42},{"h":18.27,"v":0.04},{"h":18.54,"v":0.15},{"h":18.76,"v":-1.13},{"h":18.98,"v":-0.17},{"h":19.26,"v":-1.13},{"h":19.53,"v":1.97},{"h":19.75,"v":4.33},{"h":20.02,"v":2.18},{"h":20.3,"v":0.69},{"h":20.51,"v":0.15},{"h":20.73,"v":1.11},{"h":21.01,"v":0.69},{"h":21.28,"v":0.9},{"h":21.5,"v":-2.1},{"h":21.77,"v":-0.6},{"h":22.05,"v":-0.39},{"h":22.26,"v":0.36},{"h":22.48,"v":-1.35},{"h":22.76,"v":0.36},{"h":22.98,"v":-7.56},{"h":23.25,"v":0.26},{"h":23.52,"v":1.22},{"h":23.85,"v":0.79},{"h":24.12,"v":-1.03},{"h":24.45,"v":-1.99},{"h":25.0,"v":0.04},{"h":25.27,"v":-1.03},{"h":25.55,"v":-0.92},{"h":25.98,"v":2.08},{"h":26.26,"v":-0.17},{"h":26.48,"v":-0.6},{"h":26.7,"v":0.47},{"h":26.97,"v":-0.81},{"h":27.24,"v":-1.46},{"h":27.52,"v":4.54},{"h":27.74,"v":-0.6},{"h":28.01,"v":-0.17},{"h":28.28,"v":0.04},{"h":28.5,"v":-0.39},{"h":28.77,"v":1.86},{"h":29.05,"v":0.47},{"h":29.27,"v":-6.06},{"h":29.54,"v":-0.39},{"h":29.76,"v":1.54},{"h":30.03,"v":-0.17},{"h":30.25,"v":-1.99},{"h":30.53,"v":3.36},{"h":30.74,"v":0.69},{"h":30.96,"v":0.36},{"h":31.29,"v":-0.6},{"h":31.56,"v":-0.39},{"h":31.84,"v":1.11},{"h":32.11,"v":1.54},{"h":32.38,"v":-0.17},{"h":32.71,"v":-0.17},{"h":32.99,"v":6.57},{"h":33.26,"v":3.25},{"h":33.53,"v":0.47},{"h":33.81,"v":0.47},{"h":34.08,"v":0.36},{"h":34.46,"v":1.33},{"h":34.74,"v":-3.7},{"h":35.01,"v":0.9},{"h":35.25,"v":-1.67},{"h":35.51,"v":-1.78},{"h":35.77,"v":-0.17},{"h":35.97,"v":1.01},{"h":36.23,"v":-1.46},{"h":36.49,"v":-1.78},{"h":36.75,"v":0.15},{"h":36.96,"v":0.04},{"h":37.22,"v":0.15},{"h":37.48,"v":2.72},{"h":37.74,"v":1.11},{"h":38.0,"v":2.72},{"h":38.26,"v":-1.35},{"h":38.52,"v":-0.6},{"h":38.73,"v":0.47},{"h":38.99,"v":2.29},{"h":39.2,"v":0.69},{"h":39.51,"v":-3.49},{"h":39.71,"v":-1.46},{"h":40.03,"v":-0.06},{"h":40.29,"v":-0.28},{"h":40.55,"v":-0.39},{"h":40.96,"v":-1.67},{"h":41.22,"v":2.93},{"h":41.48,"v":0.69},{"h":41.74,"v":-0.92},{"h":42.0,"v":0.36},{"h":42.26,"v":0.26},{"h":42.52,"v":1.22},{"h":42.78,"v":0.47},{"h":42.99,"v":-4.24},{"h":43.25,"v":4.86},{"h":43.51,"v":0.04},{"h":43.71,"v":2.4},{"h":43.97,"v":-0.6},{"h":44.23,"v":0.47},{"h":44.6,"v":0.47},{"h":44.96,"v":-3.7},{"h":45.22,"v":-0.6},{"h":45.48,"v":-0.81},{"h":45.74,"v":-3.06},{"h":46.0,"v":0.47},{"h":46.26,"v":-0.28},{"h":46.52,"v":1.01},{"h":46.73,"v":0.9},{"h":46.99,"v":-2.85},{"h":47.25,"v":1.65},{"h":47.56,"v":1.54},{"h":47.71,"v":1.11},{"h":47.92,"v":-1.78},{"h":48.18,"v":0.15},{"h":48.44,"v":-0.17},{"h":48.7,"v":0.04},{"h":48.96,"v":-0.17},{"h":49.22,"v":3.79},{"h":49.48,"v":1.01},{"h":49.74,"v":-0.39},{"h":50.0,"v":-0.6},{"h":50.26,"v":3.04},{"h":50.47,"v":2.51},{"h":50.73,"v":-3.7},{"h":50.99,"v":-0.17},{"h":51.3,"v":0.04},{"h":51.51,"v":0.26},{"h":51.77,"v":-0.17},{"h":51.97,"v":1.01},{"h":52.18,"v":-1.24},{"h":52.44,"v":2.18},{"h":52.7,"v":-4.03},{"h":53.01,"v":0.26},{"h":53.22,"v":-0.39},{"h":53.48,"v":2.72},{"h":53.74,"v":-0.39},{"h":54.0,"v":-0.6},{"h":54.26,"v":0.58},{"h":54.52,"v":0.47},{"h":54.94,"v":0.26},{"h":55.19,"v":-0.6},{"h":55.51,"v":16.32},{"h":55.71,"v":-0.71},{"h":55.97,"v":1.65},{"h":56.23,"v":1.33},{"h":56.49,"v":1.11},{"h":56.75,"v":0.79},{"h":56.96,"v":1.11},{"h":57.22,"v":0.69},{"h":57.48,"v":-2.42},{"h":57.74,"v":-0.17},{"h":58.0,"v":-0.06},{"h":58.26,"v":0.04},{"h":58.47,"v":0.36},{"h":58.73,"v":-2.31},{"h":58.99,"v":-0.17},{"h":59.19,"v":1.01},{"h":59.51,"v":-2.21},{"h":59.77,"v":-1.24},{"h":60.03,"v":-1.24},{"h":60.29,"v":0.04},{"h":60.55,"v":0.15},{"h":60.75,"v":1.97},{"h":61.01,"v":-0.71},{"h":61.22,"v":0.47},{"h":61.48,"v":1.97},{"h":61.74,"v":-1.78},{"h":62.0,"v":0.36},{"h":62.26,"v":2.18},{"h":62.52,"v":0.9},{"h":62.78,"v":2.18},{"h":62.99,"v":0.58},{"h":63.25,"v":0.58},{"h":63.51,"v":2.18},{"h":63.77,"v":0.47},{"h":64.03,"v":-2.31},{"h":64.34,"v":-0.17},{"h":64.55,"v":0.47},{"h":64.75,"v":0.47},{"h":65.01,"v":-3.06},{"h":65.27,"v":0.36},{"h":65.48,"v":-1.13},{"h":65.74,"v":-0.6},{"h":66.0,"v":-0.81},{"h":66.26,"v":-0.71},{"h":66.52,"v":-0.71},{"h":66.78,"v":1.76},{"h":66.99,"v":1.65},{"h":67.25,"v":-1.67},{"h":67.51,"v":0.79},{"h":67.77,"v":-1.03},{"h":68.03,"v":0.69},{"h":68.29,"v":0.47},{"h":68.55,"v":0.47},{"h":68.81,"v":0.26},{"h":69.01,"v":1.22},{"h":69.27,"v":-7.88},{"h":69.53,"v":-0.17},{"h":69.74,"v":-4.03},{"h":70.0,"v":0.47},{"h":70.26,"v":0.58},{"h":70.52,"v":0.58},{"h":70.78,"v":-1.88},{"h":70.99,"v":3.04},{"h":71.25,"v":-0.49},{"h":71.51,"v":-0.06},{"h":71.77,"v":0.9}]
},
"hconcat":[
{
 "width":2571,"height":4035,
 "resolve":{"scale":{"x":"independent","y":"independent"},"axis":{"x":"independent","y":"independent"}},
 "layer":[
  {"data":{"name":"cgm"},"layer":[
   {"mark":{"type":"line","color":"#0000ff","strokeWidth":5},
    "encoding":{
     "x":{"field":"h","type":"quantitative","scale":{"domain":[-3.59,75.34],"range":[240,2446],"nice":false,"zero":false},"axis":{"orient":"bottom","offset":-3469,"values":[0,8,16,24,32,40,48,56,64,72],"format":"d","title":null}},
     "y":{"field":"v","type":"quantitative","scale":{"domain":[68,192.5],"range":[566,125],"nice":false,"zero":false},"axis":{"orient":"left","offset":-240,"values":[75,100,125,150,175],"format":"d","title":"CGM, mg/dL"}}}},
   {"data":{"values":[{}]},"mark":{"type":"rect","fill":"transparent","stroke":"#000","strokeWidth":3.2},
    "encoding":{"x":{"datum":-3.59,"type":"quantitative"},"x2":{"datum":75.34},"y":{"datum":68,"type":"quantitative"},"y2":{"datum":192.5}}}
  ]},
  {"data":{"name":"diff"},"layer":[
   {"mark":{"type":"line","color":"#1f77b4","strokeWidth":5},
    "encoding":{
     "x":{"field":"h","type":"quantitative","scale":{"domain":[-3.59,75.34],"range":[240,2446],"nice":false,"zero":false},"axis":{"orient":"bottom","offset":-2939,"values":[0,8,16,24,32,40,48,56,64,72],"format":"d","title":null}},
     "y":{"field":"v","type":"quantitative","scale":{"domain":[-33.2,24.8],"range":[1096,655],"nice":false,"zero":false},"axis":{"orient":"left","offset":-240,"values":[-20,0,20],"format":"d","title":"Diff CGM"}}}},
   {"data":{"values":[{}]},"mark":{"type":"rect","fill":"transparent","stroke":"#000","strokeWidth":3.2},
    "encoding":{"x":{"datum":-3.59,"type":"quantitative"},"x2":{"datum":75.34},"y":{"datum":-33.2,"type":"quantitative"},"y2":{"datum":24.8}}}
  ]},
  {"data":{"name":"range"},"layer":[
   {"mark":{"type":"line","color":"#1f77b4","strokeWidth":5},
    "encoding":{
     "x":{"field":"h","type":"quantitative","scale":{"domain":[-3.59,75.34],"range":[240,2446],"nice":false,"zero":false},"axis":{"orient":"bottom","offset":-2410,"values":[0,8,16,24,32,40,48,56,64,72],"format":"d","title":null}},
     "y":{"field":"v","type":"quantitative","scale":{"domain":[7.4,79.9],"range":[1625,1184],"nice":false,"zero":false},"axis":{"orient":"left","offset":-240,"values":[20,40,60],"format":"d","title":"Rolling Range"}}}},
   {"data":{"values":[{}]},"mark":{"type":"rect","fill":"transparent","stroke":"#000","strokeWidth":3.2},
    "encoding":{"x":{"datum":-3.59,"type":"quantitative"},"x2":{"datum":75.34},"y":{"datum":7.4,"type":"quantitative"},"y2":{"datum":79.9}}}
  ]},
  {"data":{"name":"osc"},"layer":[
   {"mark":{"type":"line","color":"#1f77b4","strokeWidth":5},
    "encoding":{
     "x":{"field":"h","type":"quantitative","scale":{"domain":[-3.59,75.34],"range":[240,2446],"nice":false,"zero":false},"axis":{"orient":"bottom","offset":-1881,"values":[0,8,16,24,32,40,48,56,64,72],"format":"d","title":null}},
     "y":{"field":"v","type":"quantitative","scale":{"domain":[-0.05,1.05],"range":[2154,1713],"nice":false,"zero":false},"axis":{"orient":"left","offset":-240,"values":[0,0.25,0.5,0.75,1],"format":".2f","title":"Range Oscillator"}}}},
   {"data":{"values":[{}]},"mark":{"type":"rect","fill":"transparent","stroke":"#000","strokeWidth":3.2},
    "encoding":{"x":{"datum":-3.59,"type":"quantitative"},"x2":{"datum":75.34},"y":{"datum":-0.05,"type":"quantitative"},"y2":{"datum":1.05}}}
  ]},
  {"data":{"name":"vol"},"layer":[
   {"mark":{"type":"line","color":"#1f77b4","strokeWidth":5},
    "encoding":{
     "x":{"field":"h","type":"quantitative","scale":{"domain":[-3.59,75.34],"range":[240,2446],"nice":false,"zero":false},"axis":{"orient":"bottom","offset":-1351,"values":[0,8,16,24,32,40,48,56,64,72],"format":"d","title":null}},
     "y":{"field":"v","type":"quantitative","scale":{"domain":[0.5,19.55],"range":[2684,2243],"nice":false,"zero":false},"axis":{"orient":"left","offset":-240,"values":[5,10,15],"format":"d","title":"Volatility"}}}},
   {"data":{"values":[{}]},"mark":{"type":"rect","fill":"transparent","stroke":"#000","strokeWidth":3.2},
    "encoding":{"x":{"datum":-3.59,"type":"quantitative"},"x2":{"datum":75.34},"y":{"datum":0.5,"type":"quantitative"},"y2":{"datum":19.55}}}
  ]},
  {"data":{"name":"speed"},"layer":[
   {"mark":{"type":"line","color":"#1f77b4","strokeWidth":5},
    "encoding":{
     "x":{"field":"h","type":"quantitative","scale":{"domain":[-3.59,75.34],"range":[240,2446],"nice":false,"zero":false},"axis":{"orient":"bottom","offset":-821,"values":[0,8,16,24,32,40,48,56,64,72],"format":"d","title":"Hour"}},
     "y":{"field":"v","type":"quantitative","scale":{"domain":[-9.06,17.39],"range":[3214,2773],"nice":false,"zero":false},"axis":{"orient":"left","offset":-240,"values":[0,10],"format":"d","title":"Relative Speed"}}}},
   {"data":{"values":[{}]},"mark":{"type":"rect","fill":"transparent","stroke":"#000","strokeWidth":3.2},
    "encoding":{"x":{"datum":-3.59,"type":"quantitative"},"x2":{"datum":75.34},"y":{"datum":-9.06,"type":"quantitative"},"y2":{"datum":17.39}}}
  ]}
 ]
},
{
 "width":1113,"height":4035,
 "data":{"values":[
  {"line":0,"text":"The original time series of patient’s"},
  {"line":1,"text":"CGM observations"},
  {"line":7,"text":"First-order differences of the original"},
  {"line":8,"text":"CGM time series"},
  {"line":14,"text":"Rolling range of the original CGM"},
  {"line":15,"text":"time series, i.e. CGM highest value"},
  {"line":16,"text":"less the lowest value within a"},
  {"line":17,"text":"predefined time period. Larger range"},
  {"line":18,"text":"means CGM changes are getting"},
  {"line":19,"text":"bigger and smaller range means CGM"},
  {"line":20,"text":"values get more stable."},
  {"line":23,"text":"Range oscillator, i.e. position of the"},
  {"line":24,"text":"current CGM value within its"},
  {"line":25,"text":"historical range. Value of 1 means"},
  {"line":26,"text":"CGM is at the top of its range or"},
  {"line":27,"text":"making new highs, 0 means CGM is"},
  {"line":28,"text":"at the bottom or making new lows."},
  {"line":32,"text":"Volatility is another indicator that"},
  {"line":33,"text":"measures how fast the CGM level is"},
  {"line":34,"text":"changing. Please note it is slightly"},
  {"line":35,"text":"similar to the rolling range time series"},
  {"line":36,"text":"shape-wise."},
  {"line":41,"text":"Relative speed shows how the latest"},
  {"line":42,"text":"change in the CGM level relates to its"},
  {"line":43,"text":"volatility value. Note how the peak in"},
  {"line":44,"text":"relative speed just before hour 56"},
  {"line":45,"text":"coincides with the beginning of a new"},
  {"line":46,"text":"strong up-trend in the CGM series."},
  {"line":47,"text":"This effect is shown in detail in a"},
  {"line":48,"text":"zoomed version of the figure below."}
 ]},
 "mark":{"type":"text","align":"left","baseline":"middle","font":"Liberation Serif","fontSize":66.5,"color":"#000"},
 "encoding":{
  "x":{"value":39},
  "y":{"field":"line","type":"quantitative","scale":{"domain":[0,48],"range":[158.4,3842.6],"nice":false,"zero":false},"axis":null},
  "text":{"field":"text"}
 }
}
]
}
